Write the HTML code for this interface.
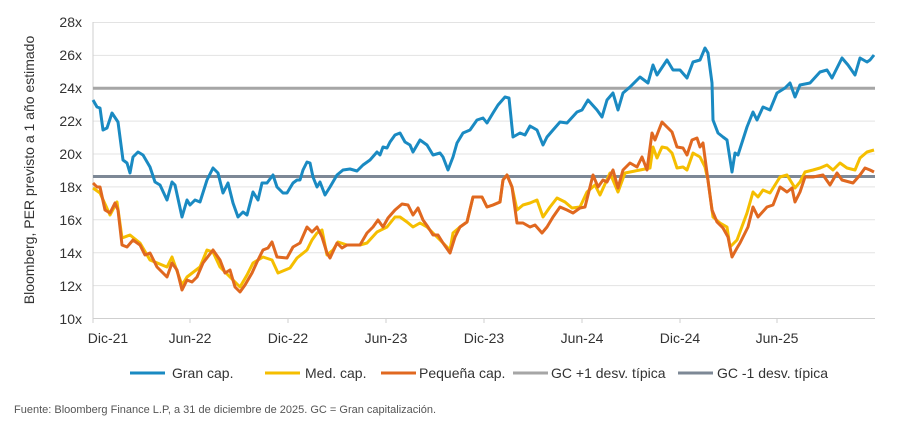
<!DOCTYPE html>
<html><head><meta charset="utf-8"><style>
body{margin:0;background:#fff;}
svg text{font-family:"Liberation Sans",sans-serif;}
</style></head><body>
<svg width="905" height="421" viewBox="0 0 905 421" xmlns="http://www.w3.org/2000/svg">
<g stroke="#e3e3e3" stroke-width="1">
<line x1="93" y1="22.5" x2="875" y2="22.5"/><line x1="93" y1="55.4" x2="875" y2="55.4"/><line x1="93" y1="88.3" x2="875" y2="88.3"/><line x1="93" y1="121.1" x2="875" y2="121.1"/><line x1="93" y1="154" x2="875" y2="154"/><line x1="93" y1="186.9" x2="875" y2="186.9"/><line x1="93" y1="219.8" x2="875" y2="219.8"/><line x1="93" y1="252.7" x2="875" y2="252.7"/><line x1="93" y1="285.6" x2="875" y2="285.6"/>
</g>
<line x1="93" y1="318.5" x2="875" y2="318.5" stroke="#cfcfcf"/>
<line x1="93" y1="22" x2="93" y2="318.5" stroke="#cfcfcf"/>
<g stroke="#cfcfcf"><line x1="93" y1="318" x2="93" y2="323"/><line x1="190" y1="318" x2="190" y2="323"/><line x1="288" y1="318" x2="288" y2="323"/><line x1="386" y1="318" x2="386" y2="323"/><line x1="484" y1="318" x2="484" y2="323"/><line x1="582" y1="318" x2="582" y2="323"/><line x1="680" y1="318" x2="680" y2="323"/><line x1="777" y1="318" x2="777" y2="323"/></g>
<g font-size="14" fill="#333" text-anchor="end">
<text x="82" y="27">28x</text><text x="82" y="60">26x</text><text x="82" y="93">24x</text><text x="82" y="126">22x</text><text x="82" y="159">20x</text><text x="82" y="192">18x</text><text x="82" y="225">16x</text><text x="82" y="258">14x</text><text x="82" y="291">12x</text><text x="82" y="324">10x</text>
</g>
<g font-size="14" fill="#333" text-anchor="middle">
<text x="108" y="343">Dic-21</text><text x="190" y="343">Jun-22</text><text x="288" y="343">Dic-22</text><text x="386" y="343">Jun-23</text><text x="484" y="343">Dic-23</text><text x="582" y="343">Jun-24</text><text x="680" y="343">Dic-24</text><text x="777" y="343">Jun-25</text>
</g>
<text transform="translate(34,170) rotate(-90)" font-size="14" fill="#333" text-anchor="middle">Bloomberg, PER previsto a 1 año estimado</text>
<line x1="93" y1="88.3" x2="875" y2="88.3" stroke="#a6a6a6" stroke-width="3"/>
<line x1="93" y1="176.5" x2="875" y2="176.5" stroke="#7d8896" stroke-width="3"/>
<g fill="none" stroke-width="3" stroke-linejoin="round">
<polyline stroke="#f5be00" points="93,188 100,193 110,215 117,202 122,238 130,235 140,243 150,260 167,267 172,257 182,285 187,277 200,267 207,250 213,252 220,267 233,280 240,287 247,275 253,263 263,257 272,260 278,273 290,268 297,258 307,250 312,240 317,233 322,230 327,255 333,250 338,242 347,245 360,245 367,243 377,232 387,227 395,217 400,217 407,222 413,227 420,223 427,227 433,233 443,243 450,250 453,233 460,227 467,222 473,197 482,197 487,207 493,205 500,202 503,180 507,175 512,187 517,210 523,205 530,203 537,200 543,217 550,207 557,198 565,202 572,208 580,207 587,192 595,185 600,195 610,173 618,192 625,173 640,170 650,168 653,147 657,158 662,147 667,148 672,153 677,168 683,167 687,170 693,153 700,157 705,167 708,180 713,217 720,223 727,227 730,247 737,240 747,213 753,192 758,197 763,190 770,193 780,177 787,175 795,188 800,182 805,172 813,170 820,168 827,165 833,170 840,163 847,168 855,170 860,158 867,152 874,150"/>
<polyline stroke="#e06820" points="93,183 97,187 100,187 105,210 110,213 115,203 118,210 122,245 127,247 133,240 140,245 145,255 150,253 157,267 163,273 167,277 172,263 177,270 182,290 187,280 192,282 197,277 203,263 213,250 220,260 225,273 230,270 235,287 240,292 245,285 252,273 257,262 263,250 268,248 272,242 277,257 287,258 293,247 300,243 307,227 312,232 317,227 322,237 327,253 330,258 337,243 342,248 347,245 360,245 367,233 373,227 378,220 383,227 388,218 395,210 402,204 408,205 413,215 418,208 423,220 428,227 433,235 438,235 443,243 450,253 455,237 460,227 467,222 473,197 482,197 487,207 493,205 500,202 503,180 507,175 512,187 517,223 523,223 530,227 535,225 542,233 547,227 553,217 560,207 567,210 573,213 580,208 585,207 590,187 593,175 598,187 603,180 607,182 613,170 618,188 623,170 630,163 637,167 642,157 647,170 652,133 655,140 662,122 667,127 672,132 677,147 683,148 687,155 692,140 697,138 700,147 703,143 707,173 712,210 717,222 723,228 728,237 732,257 737,248 740,243 748,227 753,207 758,217 767,207 773,205 780,187 787,192 792,188 795,202 800,192 805,177 813,177 823,175 830,185 837,173 842,180 853,183 860,175 865,168 870,170 874,172"/>
<polyline stroke="#1a8ac2" points="93,100 97,107 100,108 103,130 107,128 112,113 118,122 123,160 127,163 130,173 133,157 138,152 143,155 150,167 155,182 160,185 167,200 172,182 175,185 182,217 187,200 190,205 195,200 200,202 207,180 213,168 218,173 223,193 228,183 233,203 238,217 243,212 247,215 253,192 258,200 262,183 267,183 273,175 277,187 283,193 287,193 293,183 297,180 300,180 303,170 307,162 310,163 313,177 317,187 320,182 325,195 330,187 337,175 343,170 350,169 357,171 363,165 370,160 377,152 380,155 383,147 387,148 390,142 395,135 400,133 405,142 410,145 413,152 420,140 427,145 433,155 440,153 443,157 448,170 453,157 457,143 463,133 470,130 477,120 483,118 487,123 493,113 498,105 505,97 509,98 513,137 520,133 525,135 530,126 537,130 543,145 547,137 553,130 560,122 567,123 577,112 582,110 588,100 597,110 602,117 607,100 613,93 618,110 623,93 630,87 640,77 648,83 653,65 657,75 667,60 673,70 680,70 687,78 693,62 700,60 705,48 708,53 712,83 713,120 718,133 723,137 727,140 732,172 735,153 738,155 747,127 753,112 757,120 763,107 770,110 777,93 785,88 790,83 795,97 800,85 810,83 820,72 827,70 832,78 842,58 848,65 855,75 860,58 867,62 870,60 874,55"/>
</g>
<g stroke-width="3">
<line x1="130" y1="373" x2="165" y2="373" stroke="#1a8ac2"/>
<line x1="265" y1="373" x2="300" y2="373" stroke="#f5be00"/>
<line x1="381" y1="373" x2="416" y2="373" stroke="#e06820"/>
<line x1="513" y1="373" x2="548" y2="373" stroke="#a6a6a6"/>
<line x1="678" y1="373" x2="713" y2="373" stroke="#7d8896"/>
</g>
<g font-size="14" fill="#333">
<text x="172" y="378">Gran cap.</text><text x="305" y="378">Med. cap.</text><text x="419" y="378">Pequeña cap.</text><text x="551" y="378">GC +1 desv. típica</text><text x="717" y="378">GC -1 desv. típica</text>
</g>
<text x="14" y="413" font-size="11" fill="#555">Fuente: Bloomberg Finance L.P, a 31 de diciembre de 2025. GC = Gran capitalización.</text>
</svg>
</body></html>
